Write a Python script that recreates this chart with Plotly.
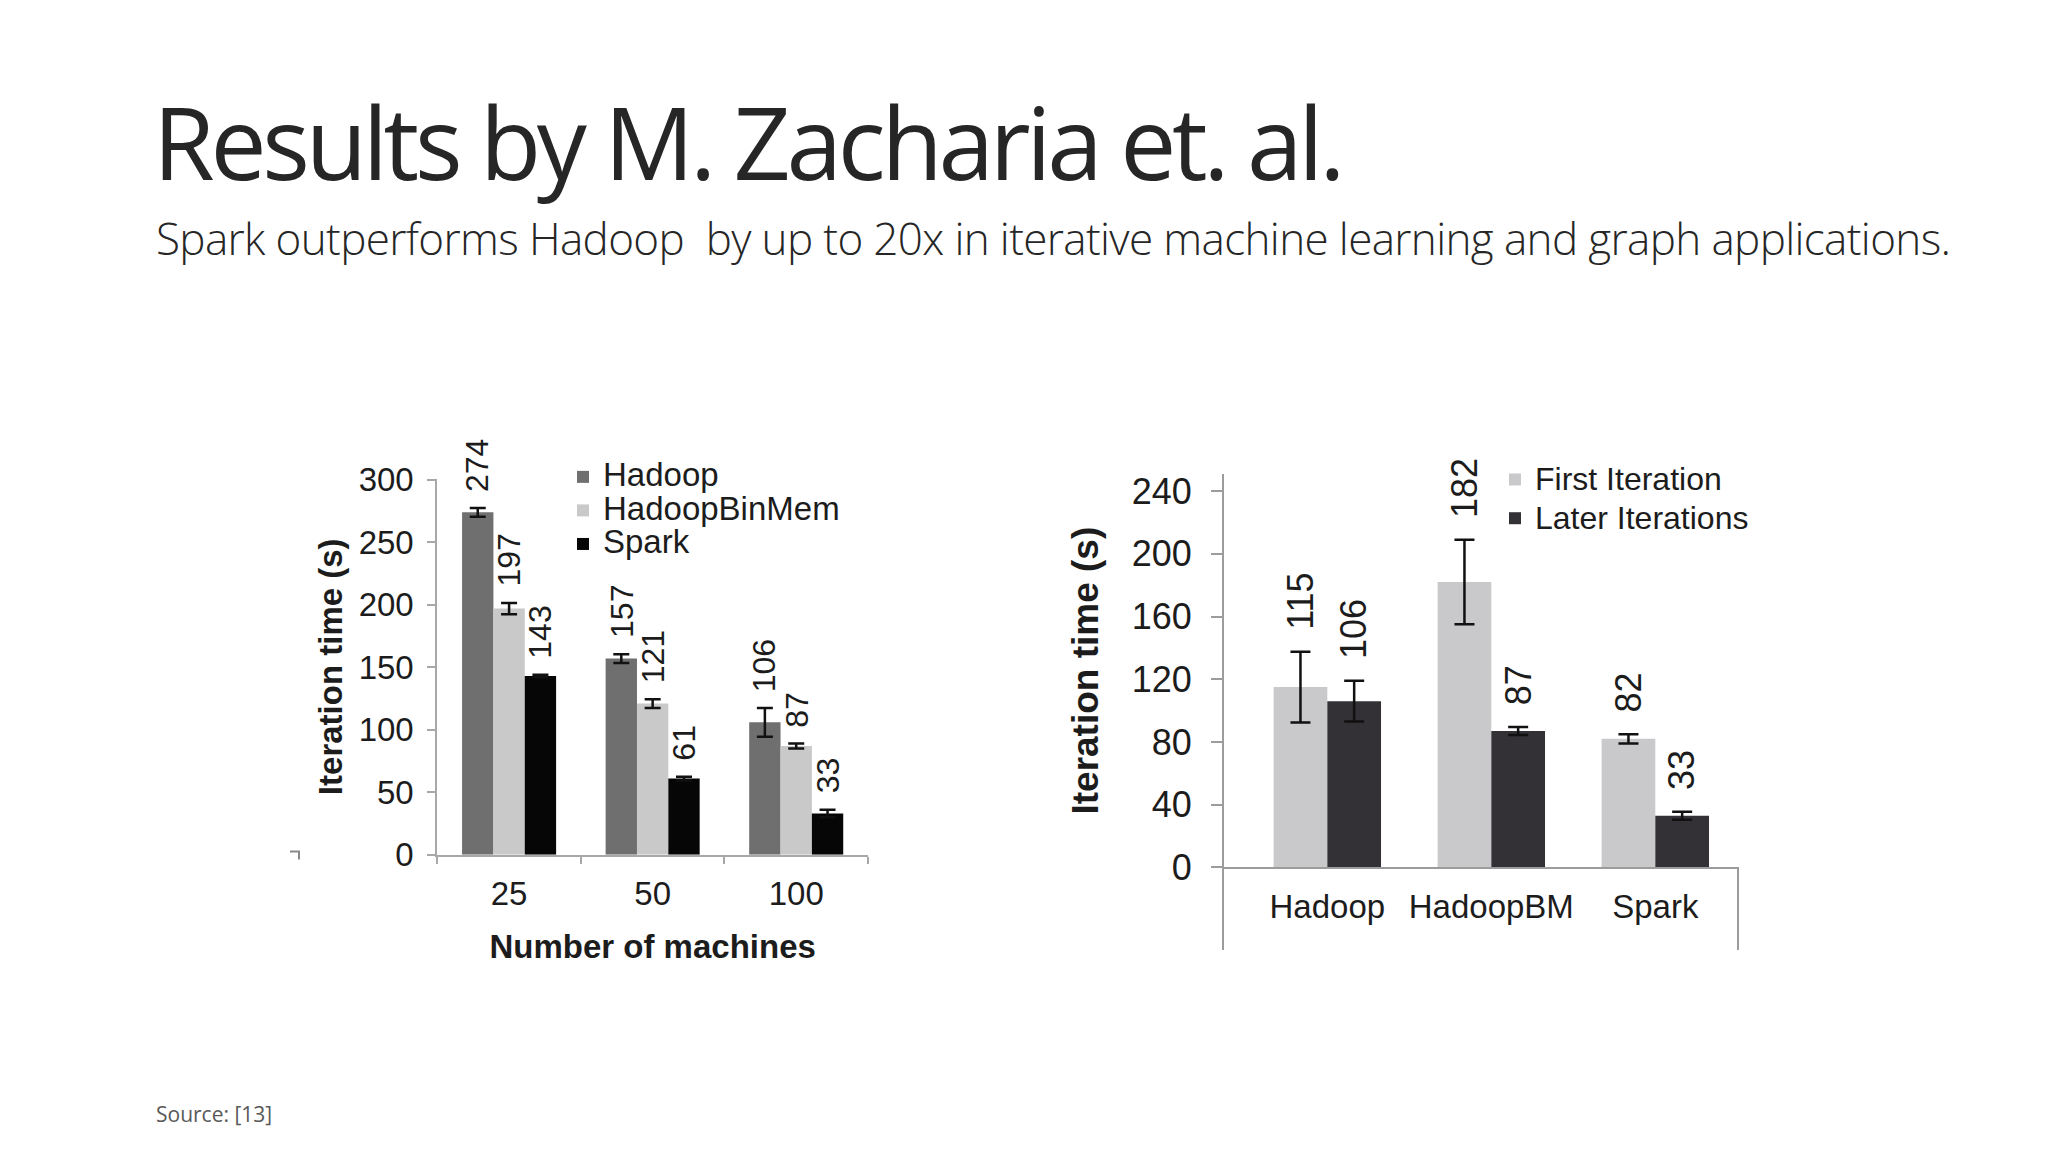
import plotly.graph_objects as go

# ---------------- data ----------------
machines = ["25", "50", "100"]
hadoop = [274, 157, 106]
hadoop_err = [3.5, 3.5, 11.5]
hbm = [197, 121, 87]
hbm_err = [4.5, 3.5, 2]
spark = [143, 61, 33]
spark_err = [1, 1.5, 3]

systems = ["Hadoop", "HadoopBM", "Spark"]
first_iter = [115, 182, 82]
first_err = [22.5, 27, 3]
later_iter = [106, 87, 33]
later_err = [13, 2.5, 2.5]

left_ticks = [0, 50, 100, 150, 200, 250, 300]
right_ticks = [0, 40, 80, 120, 160, 200, 240]

# ---------------- geometry helpers (target px -> paper) ----------------
OFF = 8                 # default body margin of the html page
FW, FH = 2048 - 2 * OFF, 1152 - 2 * OFF
VK, VA = 0.968, 15      # vertical calibration of the photographed page
SANS = "Liberation Sans, Arial, Helvetica, sans-serif"
OPEN = "Open Sans, sans-serif"
TXT = "#1c1c1c"
BARGAP = 0.345

C_HADOOP, C_HBM, C_SPARK = "#6f6f6f", "#c9c9c9", "#060606"
C_FIRST, C_LATER = "#c9c9cc", "#333135"


def px_x(v):
    return (v - OFF) / FW


def px_y(v):
    page = v / VK - VA
    return 1 - (page - OFF) / FH


fig = go.Figure()

left_series = [("Hadoop", hadoop, hadoop_err, C_HADOOP),
               ("HadoopBinMem", hbm, hbm_err, C_HBM),
               ("Spark", spark, spark_err, C_SPARK)]
for name, vals, errs, col in left_series:
    fig.add_trace(go.Bar(
        x=machines, y=vals, name=f'<span style="font-size:33px">{name}</span>',
        marker=dict(color=col, line=dict(width=0)),
        error_y=dict(type="data", array=errs, color="#111111", thickness=2.5, width=8),
        xaxis="x", yaxis="y", legend="legend"))

right_series = [("First Iteration", first_iter, first_err, C_FIRST),
                ("Later Iterations", later_iter, later_err, C_LATER)]
for name, vals, errs, col in right_series:
    fig.add_trace(go.Bar(
        x=systems, y=vals, name=f'<span style="font-size:32px">{name}</span>',
        marker=dict(color=col, line=dict(width=0)),
        error_y=dict(type="data", array=errs, color="#111111", thickness=2.5, width=10),
        xaxis="x2", yaxis="y2", legend="legend2"))

# empty trace so the frame below the right chart's category axis is drawn
fig.add_trace(go.Scatter(x=[], y=[], xaxis="x3", yaxis="y3", showlegend=False,
                         hoverinfo="skip"))

# value labels (rotated) above error bars
annotations = []
wl = (1 - BARGAP) / 3
for j, (_, vals, errs, _) in enumerate(left_series):
    for i, v in enumerate(vals):
        annotations.append(dict(
            x=i + (j - 1) * wl, y=v + errs[i], xref="x", yref="y",
            text=str(v), textangle=-90, showarrow=False,
            xanchor="center", yanchor="bottom", yshift=14,
            font=dict(family=SANS, size=32, color=TXT)))
wr = (1 - BARGAP) / 2
for j, (_, vals, errs, _) in enumerate(right_series):
    for i, v in enumerate(vals):
        annotations.append(dict(
            x=i + (j - 0.5) * wr, y=v + errs[i], xref="x2", yref="y2",
            text=str(v), textangle=-90, showarrow=False,
            xanchor="center", yanchor="bottom", yshift=20,
            font=dict(family=SANS, size=36, color=TXT)))

# slide texts
annotations.append(dict(
    x=px_x(151), y=px_y(138), xref="paper", yref="paper", xanchor="left", yanchor="middle",
    text='<span style="letter-spacing:-4.3px">Results by M. Zacharia et. al.</span>',
    showarrow=False, font=dict(family=OPEN, size=100, color="#262626")))
annotations.append(dict(
    x=px_x(154), y=px_y(236), xref="paper", yref="paper", xanchor="left", yanchor="middle",
    text='<span style="letter-spacing:-0.63px">Spark outperforms Hadoop  by up to 20x in iterative '
         'machine learning and graph applications.</span>',
    showarrow=False, font=dict(family=OPEN, size=44, color="#262626", weight=300)))
annotations.append(dict(
    x=px_x(154), y=px_y(1113), xref="paper", yref="paper", xanchor="left", yanchor="middle",
    text="Source: [13]", showarrow=False, font=dict(family=OPEN, size=21, color="#595959")))

axis_common = dict(showgrid=False, zeroline=False)

fig.update_layout(
    width=FW, height=FH, autosize=False,
    margin=dict(l=0, r=0, t=0, b=0),
    paper_bgcolor="white", plot_bgcolor="white",
    barmode="group", bargap=BARGAP, bargroupgap=0,
    font=dict(family=SANS, color=TXT),
    xaxis=dict(domain=[px_x(437.3), px_x(868)], anchor="y", type="category",
               showline=True, linecolor="#a8a8a8", linewidth=2,
               ticks="outside", tickson="boundaries", ticklen=7, tickcolor="#a8a8a8", tickwidth=2,
               tickfont=dict(size=33, color=TXT), ticklabelstandoff=9,
               title=dict(text="Number of machines", standoff=24,
                          font=dict(size=33, weight="bold", color=TXT)),
               **axis_common),
    yaxis=dict(domain=[px_y(853.3), px_y(476.7)], anchor="x", range=[0, 300.8],
               tickvals=left_ticks, showline=True, linecolor="#a8a8a8", linewidth=2,
               ticks="outside", ticklen=8, tickcolor="#a8a8a8", tickwidth=2,
               tickfont=dict(size=33, color=TXT), ticklabelstandoff=7,
               title=dict(text="Iteration time (s)", standoff=6,
                          font=dict(size=33, weight="bold", color=TXT)),
               **axis_common),
    xaxis2=dict(domain=[px_x(1224), px_x(1737.3)], anchor="y2", type="category",
                range=[-0.63, 2.5], showline=True, linecolor="#9c9c9c", linewidth=2,
                ticks="", tickfont=dict(size=33, color=TXT), ticklabelstandoff=9,
                **axis_common),
    yaxis2=dict(domain=[px_y(866), px_y(471.7)], anchor="x2", range=[0, 251],
                tickvals=right_ticks, showline=True, linecolor="#9c9c9c", linewidth=2,
                ticks="outside", ticklen=11, tickcolor="#9c9c9c", tickwidth=2,
                tickfont=dict(size=36, color=TXT), ticklabelstandoff=12,
                title=dict(text="Iteration time (s)", standoff=22,
                           font=dict(size=37, weight="bold", color=TXT)),
                **axis_common),
    xaxis3=dict(domain=[px_x(1224), px_x(1737.3)], anchor="y3", visible=False,
                range=[0, 1], **axis_common),
    yaxis3=dict(domain=[px_y(948.3), px_y(866)], anchor="x3", range=[0, 1],
                showline=True, mirror=True, linecolor="#9c9c9c", linewidth=2,
                ticks="", showticklabels=False, **axis_common),
    legend=dict(x=px_x(563), y=px_y(453), xanchor="left", yanchor="top",
                bgcolor="rgba(0,0,0,0)", font=dict(size=23.5, color=TXT),
                traceorder="normal", itemclick=False),
    legend2=dict(x=px_x(1495), y=px_y(453), xanchor="left", yanchor="top",
                 bgcolor="rgba(0,0,0,0)", font=dict(size=27.5, color=TXT),
                 traceorder="normal", itemclick=False),
    annotations=annotations,
    shapes=[dict(type="path", xref="paper", yref="paper",
                 path=f"M {px_x(290)} {px_y(850)} L {px_x(299)} {px_y(850)} L {px_x(299)} {px_y(858)}",
                 line=dict(color="#8a8a8a", width=2))],
)

fig.write_html("out.html")
